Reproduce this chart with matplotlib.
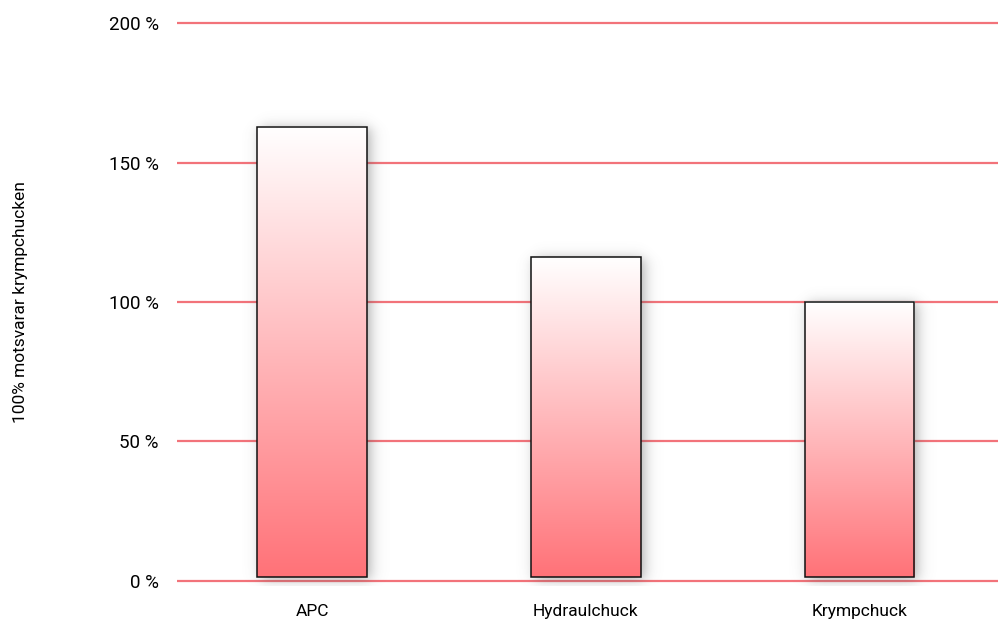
import numpy as np
import matplotlib.pyplot as plt
from matplotlib.colors import LinearSegmentedColormap

categories = ["APC", "Hydraulchuck", "Krympchuck"]
values = [163, 116, 100]
yticks = [0, 50, 100, 150, 200]
ylabel = "100% motsvarar krympchucken"

plt.rcParams['font.family'] = ['Roboto', 'DejaVu Sans']

fig = plt.figure(figsize=(9.98, 6.2), dpi=100)
ax = fig.add_axes([0.1774, 0.0544, 0.8226, 0.9168])

x = np.arange(len(categories))
base = 1.3
bars = ax.bar(x, [v - base for v in values], bottom=base, width=0.40,
              color='none', edgecolor='#111111', linewidth=1.1, zorder=4)

cmap = LinearSegmentedColormap.from_list("bar", ["#ff7278", "#ffffff"])
grad = np.linspace(0, 1, 256).reshape(-1, 1)

for b in bars:
    x0, y0 = b.get_x(), b.get_y()
    w, h = b.get_width(), b.get_height()
    # soft shadow
    px, py = 0.09, 8.0
    nx, ny = 140, 220
    xs = np.linspace(x0 - px, x0 + w + px, nx)
    ys = np.linspace(y0 - py, y0 + h + py, ny)
    sx, sy = 0.03, 2.6
    fx = 0.5 * (np.tanh((xs - x0 - 0.012) / sx) - np.tanh((xs - x0 - w - 0.012) / sx))
    fy = 0.5 * (np.tanh((ys - y0 + 1.2) / sy) - np.tanh((ys - y0 - h + 0.5) / sy))
    a = np.outer(fy, fx) * 0.5
    img = np.zeros((ny, nx, 4))
    img[..., :3] = 0.35
    img[..., 3] = a
    ax.imshow(img, extent=[xs[0], xs[-1], ys[0], ys[-1]], origin='lower',
              aspect='auto', zorder=2, interpolation='bilinear')
    ax.imshow(grad, extent=[x0, x0 + w, y0, y0 + h], origin='lower',
              aspect='auto', cmap=cmap, zorder=3, interpolation='bilinear')

for t in yticks:
    ax.axhline(t, color='#f2737a', linewidth=1.6, zorder=1)

ax.set_xlim(-0.494, len(categories) - 0.494)
ax.set_ylim(-2, 202)
ax.set_yticks(yticks)
ax.set_yticklabels([f"{t} %" for t in yticks], fontsize=13.5)
ax.set_xticks(x)
ax.set_xticklabels(categories, fontsize=12.5)
ax.tick_params(axis='y', length=0, pad=13)
ax.tick_params(axis='x', length=0, pad=13)
for s in ax.spines.values():
    s.set_visible(False)

fig.text(0.021, 0.513, ylabel, rotation=90, ha='center', va='center', fontsize=12.5)

fig.savefig("out.png", dpi=100)
